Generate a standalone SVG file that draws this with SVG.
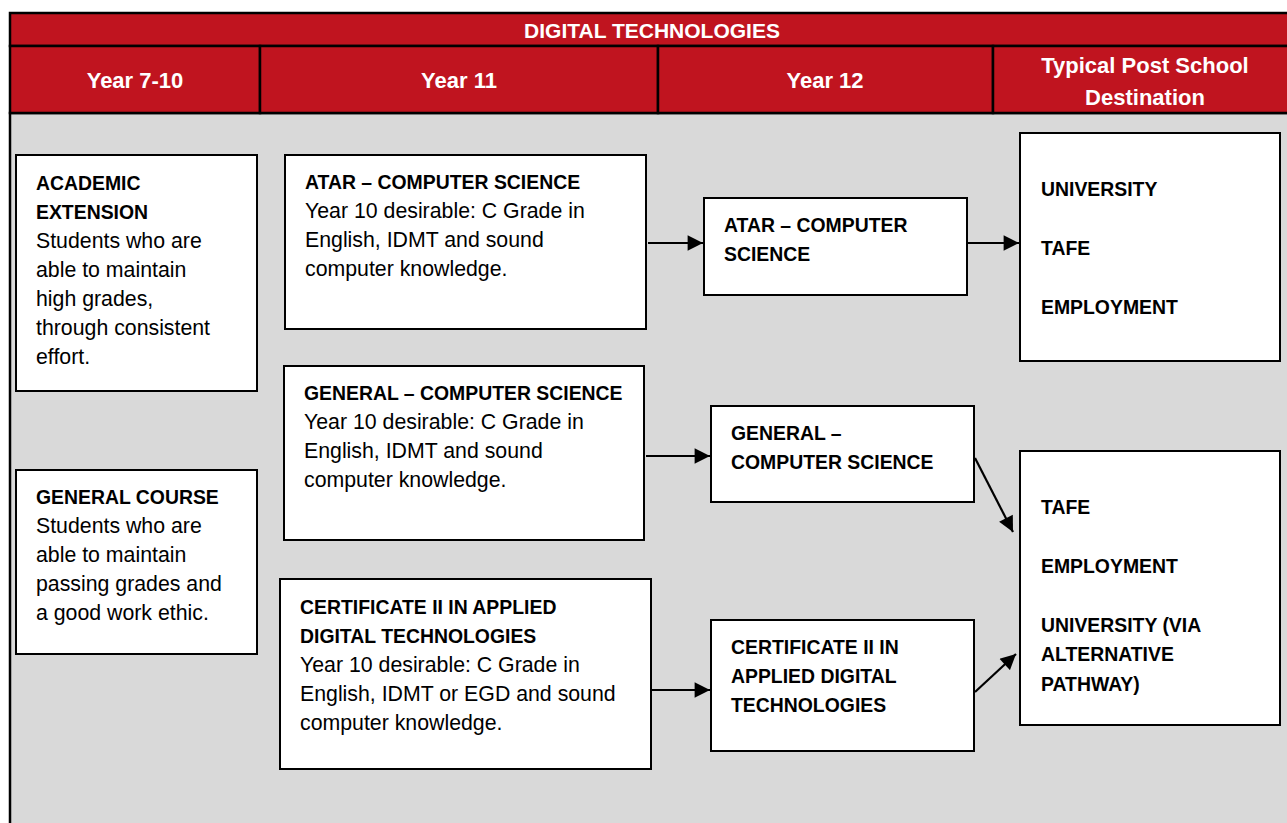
<svg xmlns="http://www.w3.org/2000/svg" width="1287" height="823" viewBox="0 0 1287 823">
<defs>
<style>
.hd{fill:#C0141F;stroke:#000;stroke-width:2.5}
.bx{fill:#fff;stroke:#000;stroke-width:2}
.ht{font-family:"Liberation Sans",Arial,sans-serif;font-weight:bold;fill:#fff;text-anchor:middle}
.t{font-family:"Liberation Sans",Arial,sans-serif;font-size:21.3px;fill:#000}
.b{font-weight:bold;font-size:19.4px}
.cn{stroke:#000;stroke-width:2.2;fill:none;marker-end:url(#ah)}
</style>
<marker id="ah" viewBox="0 0 10 10" refX="10" refY="5" markerWidth="7.5" markerHeight="7" markerUnits="strokeWidth" orient="auto">
<path d="M0,0 L10,5 L0,10 z" fill="#000"/>
</marker>
</defs>
<rect width="1287" height="823" fill="#fff"/>
<g id="table">
<rect x="10" y="113" width="1290" height="720" fill="#D9D9D9" stroke="#000" stroke-width="2.5"/>
<rect class="hd" x="10" y="13" width="1290" height="33"/>
<rect class="hd" x="10" y="46" width="250" height="67"/>
<rect class="hd" x="260" y="46" width="398" height="67"/>
<rect class="hd" x="658" y="46" width="335" height="67"/>
<rect class="hd" x="993" y="46" width="307" height="67"/>
<text class="ht" x="652" y="38" font-size="21px">DIGITAL TECHNOLOGIES</text>
<text class="ht" x="135" y="88" font-size="22px">Year 7-10</text>
<text class="ht" x="459" y="88" font-size="22px">Year 11</text>
<text class="ht" x="825" y="88" font-size="22px">Year 12</text>
<text class="ht" x="1145" y="73" font-size="22px">Typical Post School</text>
<text class="ht" x="1145" y="105" font-size="22px">Destination</text>
</g>
<g id="academic-extension">
<rect class="bx" x="16" y="155" width="241" height="236"/>
<text class="t" x="36"><tspan class="b" x="36" y="190">ACADEMIC</tspan><tspan class="b" x="36" y="219">EXTENSION</tspan><tspan x="36" y="248">Students who are</tspan><tspan x="36" y="277">able to maintain</tspan><tspan x="36" y="306">high grades,</tspan><tspan x="36" y="335">through consistent</tspan><tspan x="36" y="364">effort.</tspan></text>
</g>
<g id="general-course">
<rect class="bx" x="16" y="470" width="241" height="184"/>
<text class="t"><tspan class="b" x="36" y="504">GENERAL COURSE</tspan><tspan x="36" y="533">Students who are</tspan><tspan x="36" y="562">able to maintain</tspan><tspan x="36" y="591">passing grades and</tspan><tspan x="36" y="620">a good work ethic.</tspan></text>
</g>
<g id="y11-atar">
<rect class="bx" x="285" y="155" width="361" height="174"/>
<text class="t"><tspan class="b" x="305" y="189">ATAR – COMPUTER SCIENCE</tspan><tspan x="305" y="218">Year 10 desirable: C Grade in</tspan><tspan x="305" y="247">English, IDMT and sound</tspan><tspan x="305" y="276">computer knowledge.</tspan></text>
</g>
<g id="y11-general">
<rect class="bx" x="284" y="366" width="360" height="174"/>
<text class="t"><tspan class="b" x="304" y="400">GENERAL – COMPUTER SCIENCE</tspan><tspan x="304" y="429">Year 10 desirable: C Grade in</tspan><tspan x="304" y="458">English, IDMT and sound</tspan><tspan x="304" y="487">computer knowledge.</tspan></text>
</g>
<g id="y11-cert">
<rect class="bx" x="280" y="579" width="371" height="190"/>
<text class="t"><tspan class="b" x="300" y="614">CERTIFICATE II IN APPLIED</tspan><tspan class="b" x="300" y="643">DIGITAL TECHNOLOGIES</tspan><tspan x="300" y="672">Year 10 desirable: C Grade in</tspan><tspan x="300" y="701">English, IDMT or EGD and sound</tspan><tspan x="300" y="730">computer knowledge.</tspan></text>
</g>
<g id="y12-atar">
<rect class="bx" x="704" y="198" width="263" height="97"/>
<text class="t b"><tspan x="724" y="232">ATAR – COMPUTER</tspan><tspan x="724" y="261">SCIENCE</tspan></text>
</g>
<g id="y12-general">
<rect class="bx" x="711" y="406" width="263" height="96"/>
<text class="t b"><tspan x="731" y="440">GENERAL –</tspan><tspan x="731" y="469">COMPUTER SCIENCE</tspan></text>
</g>
<g id="y12-cert">
<rect class="bx" x="711" y="620" width="263" height="131"/>
<text class="t b"><tspan x="731" y="654">CERTIFICATE II IN</tspan><tspan x="731" y="683">APPLIED DIGITAL</tspan><tspan x="731" y="712">TECHNOLOGIES</tspan></text>
</g>
<g id="dest-1">
<rect class="bx" x="1020" y="133" width="260" height="228"/>
<text class="t b"><tspan x="1041" y="196">UNIVERSITY</tspan><tspan x="1041" y="255">TAFE</tspan><tspan x="1041" y="314">EMPLOYMENT</tspan></text>
</g>
<g id="dest-2">
<rect class="bx" x="1020" y="451" width="260" height="274"/>
<text class="t b"><tspan x="1041" y="514">TAFE</tspan><tspan x="1041" y="573">EMPLOYMENT</tspan><tspan x="1041" y="632">UNIVERSITY (VIA</tspan><tspan x="1041" y="661">ALTERNATIVE</tspan><tspan x="1041" y="691">PATHWAY)</tspan></text>
</g>
<g id="connectors">
<line class="cn" x1="648" y1="243" x2="703" y2="243"/>
<line class="cn" x1="968" y1="243" x2="1019" y2="243"/>
<line class="cn" x1="646" y1="456" x2="710" y2="456"/>
<line class="cn" x1="652" y1="690" x2="710" y2="690"/>
<line class="cn" x1="975" y1="458" x2="1013" y2="532"/>
<line class="cn" x1="975" y1="692" x2="1016" y2="654"/>
</g>
</svg>
